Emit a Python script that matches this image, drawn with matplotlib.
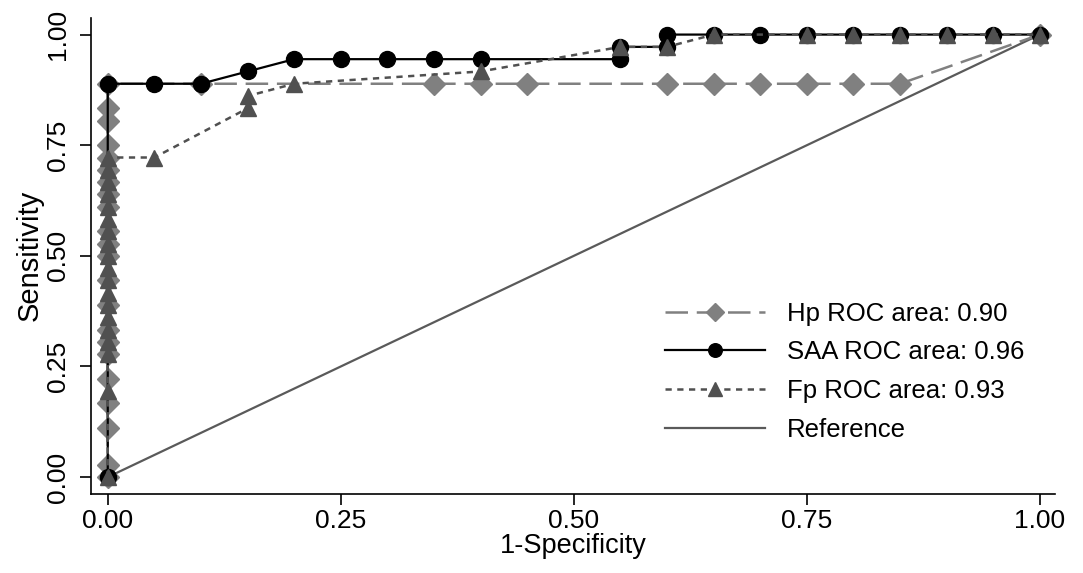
import numpy as np
import matplotlib
matplotlib.use("Agg")
import matplotlib.pyplot as plt

plt.rcParams['font.family'] = ['Liberation Sans', 'DejaVu Sans']

n_pos = 36.0

# Hp ROC points (1-specificity, sensitivity counts out of 36)
hp_x = [0, 0, 0, 0, 0, 0, 0, 0, 0, 0, 0, 0, 0, 0, 0, 0, 0, 0, 0, 0, 0, 0,
        0.10, 0.35, 0.40, 0.45, 0.60, 0.65, 0.70, 0.75, 0.80, 0.85, 1.00]
hp_k = [0, 1, 4, 6, 8, 10, 11, 12, 14, 16, 18, 19, 20, 22, 23, 24, 25, 26, 27, 29, 30, 32,
        32, 32, 32, 32, 32, 32, 32, 32, 32, 32, 36]

# SAA ROC points
saa_x = [0, 0, 0.05, 0.10, 0.15, 0.20, 0.25, 0.30, 0.35, 0.40, 0.55, 0.55, 0.60, 0.60,
         0.65, 0.70, 0.75, 0.80, 0.85, 0.90, 0.95, 1.00]
saa_k = [0, 32, 32, 32, 33, 34, 34, 34, 34, 34, 34, 35, 35, 36,
         36, 36, 36, 36, 36, 36, 36, 36]

# Fp ROC points
fp_x = [0] * 19 + [0.05, 0.15, 0.15, 0.20, 0.40, 0.55, 0.60, 0.65, 0.75, 0.80, 0.85, 0.90, 0.95, 1.00]
fp_k = [0, 7, 10, 11, 12, 13, 14, 15, 16, 17, 18, 19, 20, 21, 22, 23, 24, 25, 26,
        26, 30, 31, 32, 33, 35, 35, 36, 36, 36, 36, 36, 36, 36]

labels = ['Hp ROC area: 0.90', 'SAA ROC area: 0.96', 'Fp ROC area: 0.93', 'Reference']
ticks = [0.00, 0.25, 0.50, 0.75, 1.00]

hp_y = np.array(hp_k) / n_pos
saa_y = np.array(saa_k) / n_pos
fp_y = np.array(fp_k) / n_pos

fig = plt.figure(figsize=(10.83, 5.73), dpi=100)
ax = fig.add_axes([0.084, 0.138, 0.890, 0.831])

ax.plot([0, 1], [0, 1], color='#5a5a5a', lw=1.6, label=labels[3], zorder=1)
ax.plot(hp_x, hp_y, color='#808080', lw=1.8, dashes=(9, 3.5), marker='D',
        ms=11, mec='#808080', mfc='#808080', label=labels[0], zorder=2)
ax.plot(saa_x, saa_y, color='black', lw=1.6, marker='o', ms=11.5,
        mfc='black', mec='black', label=labels[1], zorder=3)
ax.plot(fp_x, fp_y, color='#505050', lw=1.8, dashes=(2.5, 2.2), marker='^',
        ms=12, mfc='#505050', mec='#505050', label=labels[2], zorder=4)

ax.set_xlim(-0.018, 1.016)
ax.set_ylim(-0.038, 1.038)
ax.set_xticks(ticks)
ax.set_yticks(ticks)
ax.set_xticklabels(['%.2f' % t for t in ticks])
ax.set_yticklabels(['%.2f' % t for t in ticks], rotation=90, va='center')
ax.tick_params(axis='both', direction='out', length=8, width=1.2, labelsize=19)
ax.tick_params(axis='x', pad=3)
ax.tick_params(axis='y', pad=7)
for s in ['top', 'right']:
    ax.spines[s].set_visible(False)
for s in ['left', 'bottom']:
    ax.spines[s].set_linewidth(1.2)

ax.set_xlabel('1-Specificity', fontsize=19.5, labelpad=0)
ax.set_ylabel('Sensitivity', fontsize=21, labelpad=2)

h, l = ax.get_legend_handles_labels()
order = [1, 2, 3, 0]
fig.legend([h[i] for i in order], [l[i] for i in order], loc='center left',
           bbox_to_anchor=(0.614, 0.351), frameon=False, fontsize=18.5,
           borderpad=0, borderaxespad=0, markerscale=0.85,
           handlelength=3.9, handletextpad=0.85, labelspacing=0.58)

fig.savefig('out.png', dpi=100)
